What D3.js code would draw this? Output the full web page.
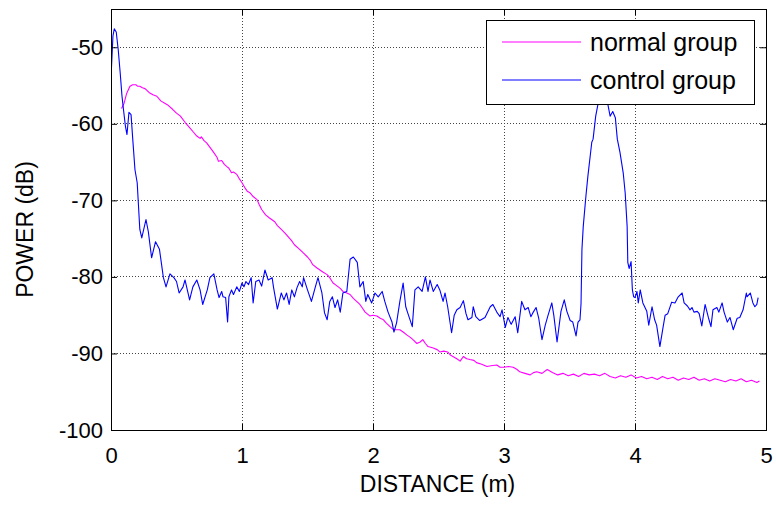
<!DOCTYPE html>
<html>
<head>
<meta charset="utf-8">
<script src="https://cdn.jsdelivr.net/npm/d3@7"></script>
<style>
  html, body { margin: 0; padding: 0; background: #fff; }
  svg { display: block; }
  text { font-family: "Liberation Sans", Arial, sans-serif; fill: #000; }
</style>
</head>
<body>
<svg id="chart" width="776" height="507"></svg>
<script>
// Axis settings
const xDomain = [0, 5];
const yDomain = [-100, -45];
const xTicks = [0, 1, 2, 3, 4, 5];
const yTicks = [-100, -90, -80, -70, -60, -50];
const seriesNames = ["normal group", "control group"];
const seriesColors = ["#ff00ff", "#0000ff"];

// normal group: [distance (m), power (dB)]
const normalGroup = [
  [0.08,-58.0],[0.1,-57.3],[0.12,-56.0],[0.145,-55.1],[0.165,-54.9],[0.19,-54.9],[0.205,-55.1],[0.22,-55.1],
  [0.24,-55.3],[0.26,-55.4],[0.29,-55.9],[0.32,-56.2],[0.35,-56.4],[0.38,-57.0],[0.41,-57.3],[0.43,-57.5],
  [0.47,-58.1],[0.5,-58.6],[0.53,-59.0],[0.565,-59.8],[0.6,-60.5],[0.63,-61.1],[0.655,-61.6],[0.68,-61.9],
  [0.69,-61.7],[0.71,-62.2],[0.73,-62.5],[0.77,-63.4],[0.79,-63.9],[0.81,-64.4],[0.82,-64.9],[0.845,-64.8],
  [0.865,-65.3],[0.885,-65.6],[0.9,-65.8],[0.92,-66.4],[0.935,-66.3],[0.96,-66.6],[0.98,-67.2],[1.0,-67.7],
  [1.02,-68.3],[1.04,-68.8],[1.06,-69.0],[1.085,-69.5],[1.115,-69.9],[1.13,-70.5],[1.15,-71.2],[1.18,-71.9],
  [1.21,-72.3],[1.25,-72.8],[1.27,-73.3],[1.30,-73.8],[1.33,-74.3],[1.35,-74.7],[1.38,-75.3],[1.40,-75.8],
  [1.44,-76.4],[1.47,-76.9],[1.5,-77.4],[1.52,-77.8],[1.54,-78.4],[1.57,-78.8],[1.595,-79.1],[1.62,-79.4],
  [1.65,-79.7],[1.67,-80.1],[1.695,-80.8],[1.72,-81.1],[1.75,-81.5],[1.77,-81.9],[1.8,-82.1],[1.825,-82.3],
  [1.85,-82.8],[1.875,-83.2],[1.9,-83.6],[1.92,-84.1],[1.94,-84.6],[1.975,-85.1],[2.0,-85.0],[2.03,-85.1],
  [2.055,-85.4],[2.08,-85.6],[2.1,-86.0],[2.13,-86.5],[2.15,-86.8],[2.17,-86.9],[2.205,-86.9],[2.23,-87.2],
  [2.26,-87.6],[2.285,-87.9],[2.305,-88.2],[2.335,-88.7],[2.36,-88.5],[2.38,-88.2],[2.4,-88.7],[2.42,-89.1],
  [2.46,-89.3],[2.49,-89.5],[2.51,-89.8],[2.54,-89.7],[2.57,-89.8],[2.59,-90.2],[2.61,-90.4],[2.64,-90.7],
  [2.665,-91.0],[2.69,-90.4],[2.715,-90.7],[2.74,-90.8],[2.77,-90.9],[2.79,-91.2],[2.83,-91.4],[2.87,-91.7],
  [2.9,-91.6],[2.945,-91.5],[2.97,-91.8],[3.0,-91.8],[3.035,-91.7],[3.07,-91.8],[3.1,-92.1],[3.12,-92.4],
  [3.16,-92.6],[3.2,-92.8],[3.225,-92.5],[3.25,-92.4],[3.29,-92.6],[3.33,-92.1],[3.37,-92.5],[3.41,-92.8],
  [3.45,-92.6],[3.49,-92.9],[3.53,-92.7],[3.57,-93.0],[3.61,-92.6],[3.65,-92.8],[3.69,-92.7],[3.73,-92.9],
  [3.77,-92.6],[3.81,-93.0],[3.85,-93.2],[3.89,-92.9],[3.93,-93.1],[3.97,-92.8],[4.01,-93.2],[4.05,-93.0],
  [4.09,-93.3],[4.13,-93.1],[4.17,-93.4],[4.21,-93.0],[4.25,-93.3],[4.29,-93.1],[4.33,-93.5],[4.37,-93.2],
  [4.41,-93.4],[4.45,-93.1],[4.49,-93.5],[4.53,-93.3],[4.57,-93.6],[4.61,-93.3],[4.65,-93.5],[4.69,-93.7],
  [4.73,-93.4],[4.77,-93.6],[4.81,-93.3],[4.85,-93.7],[4.89,-93.5],[4.93,-93.8],[4.95,-93.6]
];

// control group: [distance (m), power (dB)]
const controlGroup = [
  [0,-54.0],[0.015,-48.5],[0.025,-47.6],[0.04,-48.0],[0.055,-50.3],[0.07,-53.3],[0.084,-56.4],[0.095,-58.1],
  [0.11,-60.3],[0.122,-61.4],[0.137,-58.5],[0.153,-58.8],[0.166,-62.0],[0.183,-66.0],[0.2,-67.7],[0.22,-73.8],
  [0.235,-74.9],[0.267,-72.5],[0.285,-74.1],[0.31,-77.5],[0.34,-75.4],[0.37,-76.4],[0.40,-80.1],[0.42,-81.3],
  [0.45,-79.6],[0.48,-80.1],[0.50,-80.6],[0.52,-82.1],[0.55,-81.3],[0.565,-80.4],[0.6,-83.0],[0.625,-81.3],
  [0.655,-80.4],[0.68,-81.7],[0.70,-83.6],[0.735,-81.7],[0.755,-80.1],[0.785,-79.6],[0.81,-81.7],[0.825,-82.7],
  [0.845,-81.9],[0.855,-82.6],[0.875,-82.7],[0.89,-85.9],[0.90,-82.6],[0.92,-81.7],[0.935,-82.3],[0.96,-81.3],
  [0.98,-81.9],[1.0,-80.8],[1.015,-81.3],[1.03,-80.6],[1.05,-81.0],[1.07,-80.1],[1.085,-83.4],[1.105,-80.6],
  [1.13,-80.4],[1.15,-81.2],[1.175,-79.1],[1.2,-80.4],[1.23,-80.1],[1.24,-81.3],[1.27,-84.2],[1.3,-82.1],
  [1.32,-83.0],[1.34,-82.1],[1.36,-83.6],[1.38,-81.7],[1.40,-82.6],[1.42,-81.4],[1.44,-80.6],[1.46,-81.3],
  [1.47,-80.1],[1.5,-81.7],[1.53,-83.2],[1.56,-81.3],[1.58,-80.1],[1.61,-82.1],[1.63,-84.7],[1.65,-85.6],
  [1.67,-83.2],[1.69,-82.6],[1.71,-84.0],[1.73,-83.0],[1.75,-84.6],[1.77,-82.1],[1.80,-81.9],[1.825,-77.7],
  [1.85,-77.4],[1.88,-78.1],[1.9,-81.3],[1.925,-80.6],[1.945,-83.2],[1.96,-82.3],[1.99,-83.4],[2.015,-82.1],
  [2.04,-82.6],[2.07,-81.9],[2.09,-83.2],[2.115,-84.6],[2.145,-85.9],[2.16,-87.2],[2.18,-86.0],[2.205,-83.2],
  [2.23,-80.8],[2.25,-83.9],[2.265,-84.7],[2.3,-86.5],[2.32,-81.7],[2.345,-81.3],[2.375,-81.9],[2.4,-80.0],
  [2.42,-81.9],[2.435,-80.4],[2.46,-81.9],[2.49,-81.0],[2.51,-81.7],[2.535,-83.2],[2.55,-82.1],[2.57,-83.9],
  [2.6,-87.3],[2.62,-85.0],[2.64,-84.3],[2.665,-84.0],[2.69,-83.1],[2.71,-84.8],[2.725,-85.6],[2.755,-85.3],
  [2.765,-83.9],[2.785,-85.2],[2.815,-85.7],[2.855,-85.3],[2.895,-83.9],[2.915,-83.6],[2.945,-84.6],[2.97,-85.2],
  [2.985,-84.3],[3.01,-86.6],[3.03,-85.3],[3.055,-86.2],[3.085,-85.2],[3.105,-87.3],[3.135,-83.2],[3.16,-84.3],
  [3.185,-84.0],[3.205,-85.2],[3.22,-84.7],[3.245,-84.0],[3.265,-85.4],[3.29,-88.2],[3.315,-86.3],[3.335,-85.1],
  [3.365,-83.4],[3.38,-85.0],[3.405,-88.5],[3.435,-84.5],[3.46,-83.0],[3.48,-84.5],[3.505,-85.7],[3.525,-85.9],
  [3.55,-87.7],[3.565,-85.9],[3.58,-85.6],[3.588,-83.5],[3.595,-76.4],[3.605,-73.4],[3.625,-69.5],[3.64,-66.9],
  [3.67,-62.4],[3.68,-62.0],[3.70,-59.0],[3.72,-57.2],[3.74,-55.8],[3.76,-54.6],[3.78,-55.2],[3.79,-57.2],
  [3.81,-59.0],[3.83,-58.4],[3.85,-59.2],[3.865,-62.0],[3.885,-63.7],[3.91,-66.4],[3.925,-69.0],[3.94,-73.4],
  [3.945,-78.1],[3.955,-78.9],[3.97,-78.0],[3.98,-81.7],[3.99,-82.6],[4.0,-82.7],[4.015,-81.9],[4.025,-83.4],
  [4.04,-81.7],[4.06,-83.4],[4.09,-84.5],[4.105,-86.3],[4.13,-83.9],[4.15,-85.6],[4.165,-86.3],[4.19,-89.1],
  [4.215,-86.5],[4.23,-85.0],[4.25,-84.8],[4.28,-83.3],[4.305,-83.4],[4.33,-82.6],[4.36,-82.1],[4.375,-83.4],
  [4.4,-83.8],[4.42,-84.3],[4.435,-84.0],[4.45,-84.6],[4.475,-84.5],[4.49,-84.8],[4.51,-86.4],[4.535,-83.6],
  [4.56,-85.3],[4.58,-86.5],[4.595,-84.3],[4.625,-84.0],[4.64,-84.6],[4.665,-83.4],[4.68,-84.6],[4.705,-85.9],
  [4.725,-85.3],[4.75,-86.9],[4.78,-85.4],[4.8,-85.3],[4.825,-84.3],[4.85,-82.1],[4.855,-82.6],[4.88,-82.1],
  [4.9,-83.4],[4.915,-83.9],[4.93,-83.6],[4.94,-82.7]
];

const series = [normalGroup, controlGroup];

// Layout
const margin = { left: 111, top: 9, right: 10, bottom: 77 };
const W = 776, H = 507;
const pw = W - margin.left - margin.right;
const ph = H - margin.top - margin.bottom;

const svg = d3.select("#chart");
const g = svg.append("g").attr("transform", `translate(${margin.left},${margin.top})`);

const x = d3.scaleLinear().domain(xDomain).range([0, pw]);
const y = d3.scaleLinear().domain(yDomain).range([ph, 0]);

// Dotted grid
g.append("g").selectAll("line").data(xTicks.slice(1, -1)).join("line")
  .attr("x1", d => x(d)).attr("x2", d => x(d)).attr("y1", 0).attr("y2", ph)
  .attr("stroke", "#444").attr("stroke-width", 1).attr("stroke-dasharray", "1,2")
  .attr("shape-rendering", "crispEdges");
g.append("g").selectAll("line").data(yTicks.filter(d => d > yDomain[0])).join("line")
  .attr("x1", 0).attr("x2", pw).attr("y1", d => y(d)).attr("y2", d => y(d))
  .attr("stroke", "#444").attr("stroke-width", 1).attr("stroke-dasharray", "1,2")
  .attr("shape-rendering", "crispEdges");

// Data lines
g.append("clipPath").attr("id", "plotClip").append("rect")
  .attr("width", pw).attr("height", ph);
const line = d3.line().x(d => x(d[0])).y(d => y(d[1]));
g.append("g").attr("clip-path", "url(#plotClip)")
  .selectAll("path").data(series).join("path")
  .attr("d", line)
  .attr("fill", "none")
  .attr("stroke", (d, i) => seriesColors[i])
  .attr("stroke-width", 1.1)
  .attr("stroke-linejoin", "round");

// Axes with inward ticks on all four sides; plain hyphen for negative labels
const tickLen = 6;
const fmt = d => String(d);
const axB = g.append("g").attr("transform", `translate(0,${ph})`)
  .call(d3.axisBottom(x).tickValues(xTicks).tickSizeInner(-tickLen).tickSizeOuter(0).tickPadding(17).tickFormat(fmt));
const axT = g.append("g")
  .call(d3.axisTop(x).tickValues(xTicks).tickSizeInner(-tickLen).tickSizeOuter(0).tickFormat(""));
const axL = g.append("g")
  .call(d3.axisLeft(y).tickValues(yTicks).tickSizeInner(-tickLen).tickSizeOuter(0).tickPadding(8).tickFormat(fmt));
const axR = g.append("g").attr("transform", `translate(${pw},0)`)
  .call(d3.axisRight(y).tickValues(yTicks).tickSizeInner(-tickLen).tickSizeOuter(0).tickFormat(""));

[axB, axT, axL, axR].forEach(a => {
  a.select(".domain").remove();
  a.selectAll("line").attr("stroke", "#000");
  a.selectAll("text").attr("font-size", 22).attr("font-family", "'Liberation Sans', Arial, sans-serif").attr("fill", "#000");
});

// Axes box
g.append("rect").attr("width", pw).attr("height", ph)
  .attr("fill", "none").attr("stroke", "#000").attr("stroke-width", 1)
  .attr("shape-rendering", "crispEdges");

// Axis titles
svg.append("text")
  .attr("x", margin.left + pw / 2 - 1).attr("y", 492)
  .attr("text-anchor", "middle").attr("font-size", 23)
  .text("DISTANCE (m)");
svg.append("text")
  .attr("transform", `translate(33,${margin.top + ph / 2 + 10}) rotate(-90)`)
  .attr("text-anchor", "middle").attr("font-size", 23)
  .text("POWER (dB)");

// Legend
const lg = svg.append("g").attr("transform", "translate(486,20)");
lg.append("rect").attr("width", 268).attr("height", 84)
  .attr("fill", "#fff").attr("stroke", "#000").attr("stroke-width", 1)
  .attr("shape-rendering", "crispEdges");
seriesNames.forEach((name, i) => {
  const cy = 22 + i * 38;
  lg.append("line").attr("x1", 16).attr("x2", 95).attr("y1", cy).attr("y2", cy)
    .attr("stroke", seriesColors[i]).attr("stroke-width", 1.1);
  lg.append("text").attr("x", 104).attr("y", cy).attr("dy", "0.35em")
    .attr("font-size", 25).text(name);
});
</script>
</body>
</html>
